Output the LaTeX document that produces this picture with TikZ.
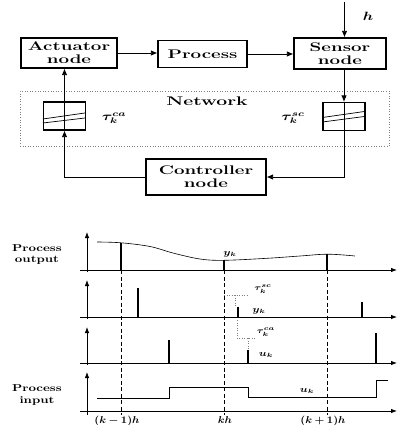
\documentclass[tikz,border=0pt]{standalone}
\usepackage{amsmath,bm}
\usepackage{graphicx}
\usetikzlibrary{arrows.meta}
% horizontally widened text
\newcommand{\wtxt}[2][1.5]{\scalebox{#1}[1]{#2}}
\newcommand{\wmath}[2][1.25]{\scalebox{#1}[1]{$\bm{#2}$}}

\begin{document}
\begin{tikzpicture}[x=1pt,y=-1pt,
  blk/.style={draw, line width=1.2pt, inner sep=0pt, align=center,
    font=\fontsize{12.5}{13.2}\selectfont\bfseries},
  buf/.style={draw, line width=1.2pt, inner sep=0pt,
    minimum width=42pt, minimum height=28pt},
  conn/.style={line width=0.8pt},
  tip/.style={-{Latex[length=6.5pt,width=5.5pt]}},
  axis/.style={line width=0.8pt, -{Latex[length=6pt,width=4.5pt]}},
  stem/.style={line width=2.2pt},
  guide/.style={line width=0.8pt, dash pattern=on 4pt off 2.5pt},
  lead/.style={line width=0.5pt, dotted, gray},
  side/.style={align=center, font=\fontsize{10}{11.5}\selectfont\bfseries},
  lbl/.style={inner sep=0pt, font=\fontsize{10}{12}\selectfont}]
\useasboundingbox (0,0) rectangle (397,425);

% ---------------- block diagram ----------------
\node[blk, minimum width=96pt, minimum height=30pt] (act) at (69,53)
  {\wtxt{Actuator}\\\wtxt{node}};
\node[blk, minimum width=89pt, minimum height=27pt] (proc) at (202.5,54)
  {\wtxt{Process}};
\node[blk, minimum width=92pt, minimum height=31pt] (sens) at (340,53.5)
  {\wtxt{Sensor}\\\wtxt{node}};
\node[blk, minimum width=120pt, minimum height=36pt] (ctrl) at (206,177)
  {\wtxt{Controller}\\\wtxt{node}};

% network region
\node[draw, dotted, gray, line width=0.6pt, minimum width=369pt,
  minimum height=55pt] (net) at (204.5,118.5) {};
\node[lbl, font=\fontsize{12.5}{14}\selectfont\bfseries] (netlbl) at (207,101)
  {\wtxt[1.55]{Network}};

% delay buffers
\node[buf] (lb) at (64.5,116) {};
\node[buf] (rb) at (344,116.5) {};
\draw[line width=0.7pt] (lb.west) ++(0,3) -- ++(42,-6);
\draw[line width=0.7pt] (lb.west) ++(0,7) -- ++(42,-5);
\draw[line width=0.7pt] (rb.west) ++(0,1) -- ++(42,-6);
\draw[line width=0.7pt] (rb.west) ++(0,5.5) -- ++(42,-5.5);

\node[lbl, font=\fontsize{12}{14}\selectfont] (tca) at (114,118) {\wmath[1.35]{\tau_k^{ca}}};
\node[lbl, font=\fontsize{12}{14}\selectfont] (tsc) at (293,118) {\wmath[1.35]{\tau_k^{sc}}};

% signal flow
\coordinate (htop) at (344.5,2);
\node[lbl, font=\fontsize{12}{14}\selectfont] (hlbl) at (368,16) {\wmath[1.3]{h}};
\draw[conn,tip] (htop) -- (htop |- sens.north);
\draw[conn,tip] (act.east) -- (act.east -| proc.west);
\draw[conn,tip] (proc.east) -- (proc.east -| sens.west);
\draw[conn,tip] (rb.north |- sens.south) -- (rb.north);
\draw[conn] (rb.north) -- (rb.south);
\draw[conn,tip] (rb.south) |- (ctrl.east);
\draw[conn,tip] (ctrl.west) -| (lb.south);
\draw[conn] (lb.south) -- (lb.north);
\draw[conn,tip] (lb.north) -- (lb.north |- act.south);

% ---------------- timing diagram ----------------
\foreach \b/\t in {270/232, 317/280, 363/327, 411/372}{
  \draw[axis] (80,\b) -- (397,\b);
  \draw[axis] (87,\b+2) -- (87,\t);
}
\draw[line width=0.8pt] (87,411) -- (87,415);

% sampling instants
\foreach \x in {121,224,327}
  \draw[guide] (\x,270) -- (\x,415);

% process output
\draw[line width=0.6pt] plot[smooth, tension=0.6] coordinates
  {(97,242) (121,242.8) (150,246.5) (173,253) (200,259) (224,260.3)
   (267,258.3) (300,256) (328,254.2) (355,256)};
\draw[stem] (121,270) -- (121,243);
\draw[stem] (224,270) -- (224,260);
\draw[stem] (327,270) -- (327,254);
\node[lbl, font=\fontsize{9}{10}\selectfont] (y1) at (230,254) {\wmath{y_k}};

% sensor samples
\draw[stem] (138,317) -- (138,288);
\draw[stem] (238,317) -- (238,307);
\draw[stem] (362,317) -- (362,302);
\draw[lead] (224,295) -- (247,295);
\draw[lead] (235,295) -- (235,307);
\node[lbl, font=\fontsize{8}{10}\selectfont] (tsc2) at (263,289) {\wmath{\tau_k^{sc}}};
\node[lbl, font=\fontsize{9}{10}\selectfont] (y2) at (259,311) {\wmath{y_k}};

% controller outputs
\draw[stem] (169,363) -- (169,340);
\draw[stem] (248,363) -- (248,350);
\draw[stem] (376,363) -- (376,333);
\draw[lead] (237,320) -- (237,338) -- (256,338);
\draw[lead] (248,338) -- (248,350);
\node[lbl, font=\fontsize{8}{10}\selectfont] (tca2) at (266,332) {\wmath{\tau_k^{ca}}};
\node[lbl, font=\fontsize{9}{10}\selectfont] (u3) at (266,355) {\wmath{u_k}};

% process input
\draw[line width=0.8pt] (97,398) -- (169,398) -- (169,387) -- (248,387)
  -- (248,397) -- (376,397) -- (376,380) -- (388,380);
\node[lbl, font=\fontsize{9}{10}\selectfont] (u4) at (307,391) {\wmath{u_k}};

% side labels
\node[side] (pout) at (37,254.5) {\wtxt[1.3]{Process}\\\wtxt[1.3]{output}};
\node[side] (pin) at (37,395) {\wtxt[1.3]{Process}\\\wtxt[1.3]{input}};

% time axis labels
\node[lbl] (tkm) at (117,420.5) {\wmath[1.1]{(k-1)h}};
\node[lbl] (tk) at (225,420.5) {\wmath[1.1]{kh}};
\node[lbl] (tkp) at (323,420.5) {\wmath[1.1]{(k+1)h}};
\end{tikzpicture}
\end{document}
